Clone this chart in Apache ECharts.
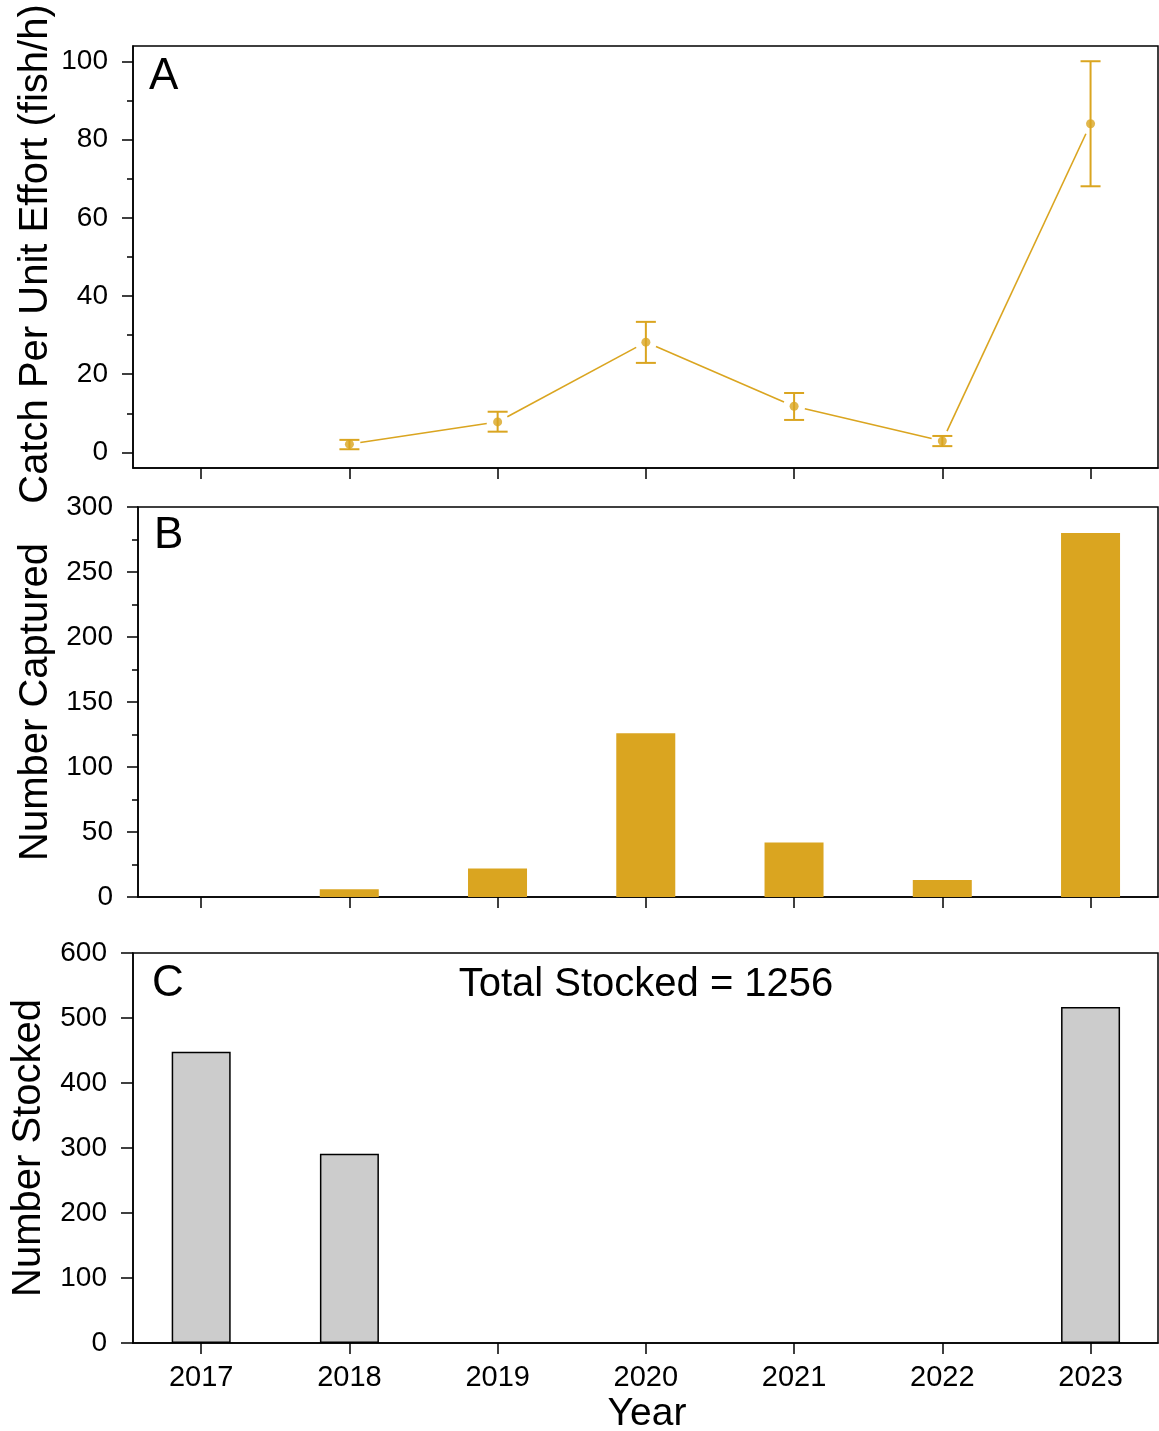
<!DOCTYPE html>
<html>
<head>
<meta charset="utf-8">
<script src="https://cdn.jsdelivr.net/npm/echarts@6/dist/echarts.min.js"></script>
<style>html,body{margin:0;padding:0;background:#fff}#c{width:1159px;height:1431px}</style>
</head>
<body>
<div id="c"></div>
<script>
// ---- data ----
const years = [2017, 2018, 2019, 2020, 2021, 2022, 2023];
const cpueYears = [2018, 2019, 2020, 2021, 2022, 2023];
const cpue = [2.1, 7.8, 28.2, 11.8, 2.9, 84.1];
const cpueLow = [0.8, 5.3, 22.9, 8.3, 1.6, 68.1];
const cpueHigh = [3.2, 10.4, 33.4, 15.2, 4.2, 100.1];
const captured = [0, 6, 22, 126, 42, 13, 280];
const stocked = [448, 291, 0, 0, 0, 0, 517];
const ticksA = [0, 20, 40, 60, 80, 100];
const minorA = [10, 30, 50, 70, 90];
const totalStocked = 1256;

// ---- build ----
const GOLD = '#DAA520';
const FONT = 'Liberation Sans, Arial, sans-serif';
const chart = echarts.init(document.getElementById('c'), null, {renderer: 'canvas'});

const pointsA = cpueYears.map((y, i) => [y, cpue[i]]);
const errA = cpueYears.map((y, i) => [y, cpueLow[i], cpueHigh[i]]);
const segA = [];
for (let i = 0; i < cpueYears.length - 1; i++) segA.push([cpueYears[i], cpue[i], cpueYears[i + 1], cpue[i + 1]]);
const barB = years.map((y, i) => [y, captured[i]]);
const barC = years.filter((y, i) => stocked[i] > 0).map(y => [y, stocked[years.indexOf(y)]]);

const axLine = {show: true, onZero: false, lineStyle: {color: '#000', width: 1.5}};
function xAxis(grid, min, max, labels) {
  return {
    type: 'value', gridIndex: grid, min: min, max: max,
    axisLine: axLine,
    axisTick: {show: true, customValues: years, length: 11, lineStyle: {color: '#000', width: 1.5}},
    axisLabel: labels ? {show: true, customValues: years, formatter: v => String(v), fontSize: 29, fontFamily: FONT, color: '#000', margin: 20} : {show: false},
    splitLine: {show: false}
  };
}

const option = {
  animation: false,
  backgroundColor: '#fff',
  grid: [
    {left: 133, top: 46, width: 1025, height: 422, show: true, borderColor: '#000', borderWidth: 1.5},
    {left: 138, top: 507, width: 1020, height: 390, show: true, borderColor: '#000', borderWidth: 1.5},
    {left: 133, top: 953, width: 1025, height: 390, show: true, borderColor: '#000', borderWidth: 1.5}
  ],
  xAxis: [
    xAxis(0, 2016.54, 2023.455, false),
    xAxis(1, 2016.575, 2023.455, false),
    xAxis(2, 2016.54, 2023.455, true)
  ],
  yAxis: [
    {type: 'value', gridIndex: 0, min: -4, max: 104, axisLine: axLine,
     axisTick: {show: true, customValues: ticksA, length: 11, lineStyle: {color: '#000', width: 1.5}},
     axisLabel: {show: true, customValues: ticksA, fontSize: 28, fontFamily: FONT, color: '#000', margin: 25},
     splitLine: {show: false}},
    {type: 'value', gridIndex: 0, min: -4, max: 104, position: 'left', axisLine: {show: false},
     axisTick: {show: true, customValues: minorA, length: 6, lineStyle: {color: '#000', width: 1.5}},
     axisLabel: {show: false}, splitLine: {show: false}},
    {type: 'value', gridIndex: 1, min: 0, max: 300, interval: 50, axisLine: axLine,
     axisTick: {show: true, length: 11, lineStyle: {color: '#000', width: 1.5}},
     minorTick: {show: true, splitNumber: 2, length: 6, lineStyle: {color: '#000', width: 1.5}},
     axisLabel: {fontSize: 28, fontFamily: FONT, color: '#000', margin: 25},
     splitLine: {show: false}, minorSplitLine: {show: false}},
    {type: 'value', gridIndex: 2, min: 0, max: 600, interval: 100, axisLine: axLine,
     axisTick: {show: true, length: 12, lineStyle: {color: '#000', width: 1.5}},
     axisLabel: {fontSize: 28, fontFamily: FONT, color: '#000', margin: 26},
     splitLine: {show: false}}
  ],
  series: [
    {type: 'custom', xAxisIndex: 0, yAxisIndex: 0, data: segA, z: 3,
     renderItem: function (params, api) {
       const p1 = api.coord([api.value(0), api.value(1)]);
       const p2 = api.coord([api.value(2), api.value(3)]);
       const dx = p2[0] - p1[0], dy = p2[1] - p1[1];
       const L = Math.sqrt(dx * dx + dy * dy), g = 11;
       const ux = dx / L, uy = dy / L;
       return {type: 'line', shape: {x1: p1[0] + ux * g, y1: p1[1] + uy * g, x2: p2[0] - ux * g, y2: p2[1] - uy * g},
               style: {stroke: GOLD, lineWidth: 1.6}};
     }},
    {type: 'custom', xAxisIndex: 0, yAxisIndex: 0, data: errA, z: 4,
     renderItem: function (params, api) {
       const lo = api.coord([api.value(0), api.value(1)]);
       const hi = api.coord([api.value(0), api.value(2)]);
       const w = 10, st = {stroke: GOLD, lineWidth: 2};
       return {type: 'group', children: [
         {type: 'line', shape: {x1: lo[0], y1: lo[1], x2: hi[0], y2: hi[1]}, style: st},
         {type: 'line', shape: {x1: lo[0] - w, y1: lo[1], x2: lo[0] + w, y2: lo[1]}, style: st},
         {type: 'line', shape: {x1: hi[0] - w, y1: hi[1], x2: hi[0] + w, y2: hi[1]}, style: st}
       ]};
     }},
    {type: 'scatter', xAxisIndex: 0, yAxisIndex: 0, data: pointsA, symbol: 'circle', symbolSize: 9,
     itemStyle: {color: GOLD}, z: 5},
    {type: 'bar', xAxisIndex: 1, yAxisIndex: 2, data: barB, barWidth: 59, itemStyle: {color: GOLD}},
    {type: 'bar', xAxisIndex: 2, yAxisIndex: 3, data: barC, barWidth: 59,
     itemStyle: {color: '#CCCCCC', borderColor: '#000', borderWidth: 1.5}}
  ],
  graphic: [
    {type: 'text', x: 36, y: 254, rotation: Math.PI / 2, style: {text: 'Catch Per Unit Effort (fish/h)', font: '40px ' + FONT, fill: '#000', align: 'center', verticalAlign: 'middle'}},
    {type: 'text', x: 36, y: 702, rotation: Math.PI / 2, style: {text: 'Number Captured', font: '40px ' + FONT, fill: '#000', align: 'center', verticalAlign: 'middle'}},
    {type: 'text', x: 29, y: 1148, rotation: Math.PI / 2, style: {text: 'Number Stocked', font: '40px ' + FONT, fill: '#000', align: 'center', verticalAlign: 'middle'}},
    {type: 'text', x: 647, y: 1414, style: {text: 'Year', font: '39px ' + FONT, fill: '#000', align: 'center', verticalAlign: 'middle'}},
    {type: 'text', x: 646, y: 985, style: {text: 'Total Stocked = ' + totalStocked, font: '40px ' + FONT, fill: '#000', align: 'center', verticalAlign: 'middle'}},
    {type: 'text', x: 149, y: 77, style: {text: 'A', font: '44px ' + FONT, fill: '#000', align: 'left', verticalAlign: 'middle'}},
    {type: 'text', x: 154, y: 536, style: {text: 'B', font: '44px ' + FONT, fill: '#000', align: 'left', verticalAlign: 'middle'}},
    {type: 'text', x: 152, y: 984, style: {text: 'C', font: '44px ' + FONT, fill: '#000', align: 'left', verticalAlign: 'middle'}}
  ]
};
chart.setOption(option);
</script>
</body>
</html>
